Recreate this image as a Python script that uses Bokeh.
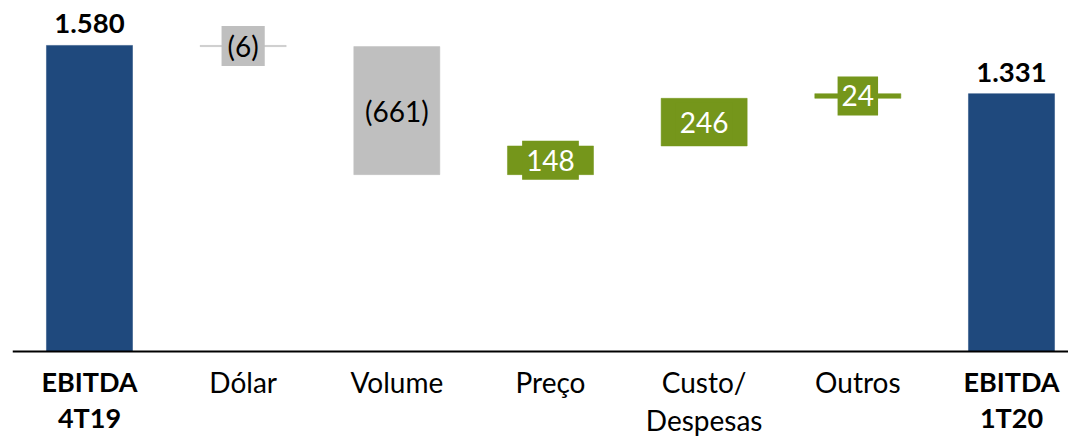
from bokeh.plotting import figure
from bokeh.models import ColumnDataSource, Range1d, Span
from bokeh.core.properties import value
from bokeh.embed import file_html
from bokeh.resources import INLINE

categories = ["EBITDA\n4T19", "Dólar", "Volume", "Preço", "Custo/\nDespesas", "Outros", "EBITDA\n1T20"]
values = [1580, -6, -661, 148, 246, 24, 1331]
kinds = ["total", "delta", "delta", "delta", "delta", "delta", "total"]

NAVY = "#1F497D"
GRAY = "#BFBFBF"
GREEN = "#75961B"
FONT = "Lato"

xs, bottoms, tops, colors, labels, mids = [], [], [], [], [], []
running = 0
for i, (v, k) in enumerate(zip(values, kinds)):
    xs.append(i)
    if k == "total":
        b, t = 0, v
        running = v
        colors.append(NAVY)
        labels.append(f"{v:,}".replace(",", "."))
    else:
        b, t = running, running + v
        running += v
        colors.append(GREEN if v > 0 else GRAY)
        labels.append(str(v) if v > 0 else f"({-v})")
    bottoms.append(min(b, t))
    tops.append(max(b, t))
    mids.append((b + t) / 2)

p = figure(width=1068, height=436, output_backend="svg", toolbar_location=None,
           x_range=Range1d(-0.501, 6.371), y_range=Range1d(-439, 1812),
           x_axis_location=None, y_axis_location=None,
           min_border_left=12, min_border_right=0, min_border_top=0, min_border_bottom=0)
p.xgrid.visible = False
p.ygrid.visible = False
p.outline_line_color = None
p.background_fill_color = "white"

src = ColumnDataSource(dict(x=xs, bottom=bottoms, top=tops, color=colors))
p.vbar(x="x", bottom="bottom", top="top", width=0.56, fill_color="color", line_color="color",
       line_width=0.5, source=src)

p.add_layout(Span(location=0, dimension="width", line_color="black", line_width=2))

# total labels above bars
tot_idx = [i for i, k in enumerate(kinds) if k == "total"]
p.text(x=[xs[i] for i in tot_idx], y=[tops[i] for i in tot_idx], text=[labels[i] for i in tot_idx],
       text_font=value(FONT), text_font_style="bold", text_font_size="27.5px",
       text_align="center", text_baseline="bottom", y_offset=-12, text_color="black")

# delta labels in boxes (negative ones in parentheses, positive ones plain)
for positive, pad in ((False, (6, 3)), (True, (4, 9))):
    idx = [i for i, k in enumerate(kinds) if k == "delta" and (values[i] > 0) == positive]
    dsrc = ColumnDataSource(dict(
        x=[xs[i] for i in idx], y=[mids[i] for i in idx], text=[labels[i] for i in idx],
        bg=[colors[i] for i in idx]))
    p.text(x="x", y="y", text="text", source=dsrc,
           text_font=value(FONT), text_font_size="28px",
           text_color="white" if positive else "black",
           text_align="center", text_baseline="middle",
           background_fill_color="bg", padding=pad)

# category labels
csrc = ColumnDataSource(dict(
    x=xs, y=[0] * len(xs), text=categories,
    style=["bold" if k == "total" else "normal" for k in kinds],
    size=["27px" if k == "total" else "28px" for k in kinds]))
p.text(x="x", y="y", text="text", source=csrc,
       text_font=value(FONT), text_font_size="size", text_font_style="style",
       text_align="center", text_baseline="top", y_offset=14, text_line_height=1.09,
       text_color="black")

open("out.html", "w").write(file_html(p, INLINE))
